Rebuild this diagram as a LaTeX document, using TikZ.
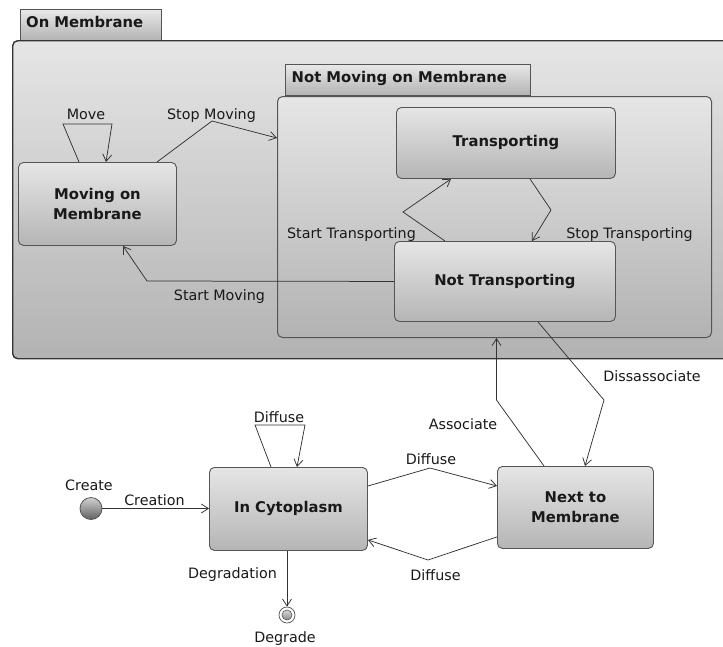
\documentclass[tikz,border=0pt]{standalone}
\usepackage{fontspec}
\setmainfont{DejaVu Sans}
\usetikzlibrary{arrows.meta}
\definecolor{edgeline}{HTML}{333333}
\definecolor{frameline}{HTML}{555555}
\tikzset{
  lbl/.style={font=\fontsize{14.3}{16}\selectfont, inner sep=0pt, anchor=base, text=black!90},
  title/.style={font=\fontsize{14.8}{19.5}\selectfont\bfseries, align=center, text=black!90},
  statebox/.style={draw=frameline, line width=0.9pt, rounded corners=5pt,
    top color=black!10, bottom color=black!29, anchor=north west, inner sep=0pt},
  regionbox/.style={draw=frameline, line width=1pt, rounded corners=5pt,
    top color=black!10, bottom color=black!30, anchor=north west, inner sep=0pt},
  tabbox/.style={draw=frameline, line width=0.9pt, top color=black!9, bottom color=black!30,
    anchor=north west, inner sep=0pt},
  tabtext/.style={font=\fontsize{14.8}{17}\selectfont\bfseries, anchor=base west, inner sep=0pt, text=black!90},
  trans/.style={draw=edgeline, line width=0.75pt, -{Straight Barb[length=7pt,width=9pt]}},
}
\begin{document}
\begin{tikzpicture}[x=1pt, y=-1pt]
\useasboundingbox (0,0) rectangle (723,646);
\fill[white] (0,0) rectangle (723,646);
\clip (0,0) rectangle (723,646);

% composite state "On Membrane"
\node[tabbox, minimum width=141pt, minimum height=31pt] (outertab) at (20,9) {};
\node[tabtext] (outertabtext) at (26,27.3) {On Membrane};
\node[regionbox, draw=edgeline, line width=1.4pt, minimum width=730pt, minimum height=318pt] (onmem) at (12,40) {};

% composite state "Not Moving on Membrane"
\node[tabbox, minimum width=245pt, minimum height=31pt] (innertab) at (285,64) {};
\node[tabtext] (innertabtext) at (291.5,82.7) {Not Moving on Membrane};
\node[regionbox, minimum width=434pt, minimum height=241pt] (notmoving) at (277,96) {};

% simple states
\node[statebox, minimum width=158pt, minimum height=83pt] (moving) at (18,162) {};
\node[title] at (moving.center) {Moving on\\Membrane};
\node[statebox, minimum width=219pt, minimum height=71pt] (transp) at (396,107) {};
\node[title] at (transp.center) {Transporting};
\node[statebox, minimum width=221pt, minimum height=80pt] (nottransp) at (394,241) {};
\node[title] at (nottransp.center) {Not Transporting};
\node[statebox, minimum width=158pt, minimum height=83pt] (cyto) at (209,467) {};
\node[title] at (cyto.center) {In Cytoplasm};
\node[statebox, minimum width=156pt, minimum height=82pt] (nextmem) at (497,466) {};
\node[title] at (nextmem.center) {Next to\\Membrane};

% pseudo states
\node[circle, minimum size=22pt, inner sep=0pt, draw=frameline, line width=0.8pt,
  top color=black!18, bottom color=black!62] (create) at (91,508.5) {};
\node[circle, minimum size=16pt, inner sep=0pt, draw=frameline, line width=0.7pt, fill=white] (degrade) at (287,615) {};
\node[circle, minimum size=10pt, inner sep=0pt, draw=frameline, line width=0.6pt,
  top color=black!15, bottom color=black!45] (degradein) at (degrade.center) {};

% transitions inside "On Membrane"
\draw[trans] ([xshift=61pt]moving.north west) -- (63,124) -- (112,124) -- ([xshift=88pt]moving.north west);
\node[lbl] (lmove) at (86,119.5) {Move};
\draw[trans] ([xshift=139pt]moving.north west) -- (212,121) -- ([yshift=-42pt]notmoving.north west);
\node[lbl] (lstopmov) at (211.5,119.5) {Stop Moving};
\draw[trans] ([xshift=51pt]nottransp.north west) -- (403,212) -- ([xshift=55pt]transp.south west);
\node[lbl] (lstarttr) at (351.5,238) {Start Transporting};
\draw[trans] ([xshift=134pt]transp.south west) -- (551,210) -- ([xshift=138pt]nottransp.north west);
\node[lbl] (lstoptr) at (629.5,238) {Stop Transporting};
\draw[trans] (nottransp.west) -- (147,281) -- ([xshift=105pt]moving.south west);
\node[lbl] (lstartmov) at (219.5,300.7) {Start Moving};

% transitions between membrane and cytoplasm
\draw[trans] ([xshift=144pt]nottransp.south west) -- (604,400) -- ([xshift=88pt]nextmem.north west);
\node[lbl] (ldis) at (652,381) {Dissassociate};
\draw[trans] ([xshift=47pt]nextmem.north west) -- (496.5,400) -- ([xshift=219.5pt]notmoving.south west);
\node[lbl] (lassoc) at (463,429.3) {Associate};
\draw[trans] ([yshift=-19pt]cyto.north east) -- (430,468) -- ([yshift=-20pt]nextmem.north west);
\node[lbl] (ldiff1) at (431,464.3) {Diffuse};
\draw[trans] ([yshift=12pt]nextmem.south west) -- (428,560) -- ([yshift=11pt]cyto.south east);
\node[lbl] (ldiff2) at (435.5,580) {Diffuse};
\draw[trans] ([xshift=62pt]cyto.north west) -- (255,425) -- (305,425) -- ([xshift=88pt]cyto.north west);
\node[lbl] (ldiff3) at (279,422) {Diffuse};

% creation and degradation
\draw[trans] (create) -- (cyto.west |- create);
\node[lbl] (lcreate) at (89,490) {Create};
\node[lbl] (lcreation) at (154.5,505.3) {Creation};
\draw[trans] (cyto.south -| degrade) -- (degrade);
\node[lbl] (ldegr) at (232.5,578.3) {Degradation};
\node[lbl] (ldegrade) at (285,642.3) {Degrade};
\end{tikzpicture}
\end{document}
